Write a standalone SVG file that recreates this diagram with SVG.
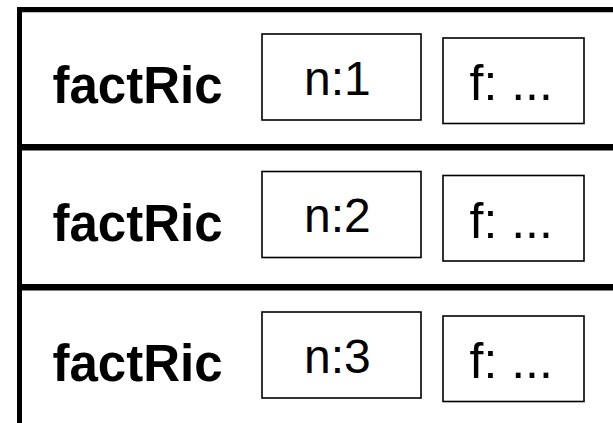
<svg xmlns="http://www.w3.org/2000/svg" width="613" height="423" viewBox="0 0 613 423">
<style>
.frame{stroke:#000;fill:none}
.box{fill:#fff;stroke:#000;stroke-width:1.6}
.name{font-family:"Liberation Sans",Arial,sans-serif;font-weight:bold;font-size:51px;fill:#000}
.val{font-family:"Liberation Sans",Arial,sans-serif;font-size:48px;fill:#000}
.fv{font-family:"Liberation Sans",Arial,sans-serif;font-size:50px;fill:#000}
</style>
<rect width="613" height="423" fill="#fff"/>
<g id="frame">
<line class="frame" x1="19.5" y1="7" x2="19.5" y2="423" stroke-width="5"/>
<line class="frame" x1="17" y1="9.6" x2="613" y2="9.6" stroke-width="5.3"/>
<line class="frame" x1="17" y1="147.3" x2="613" y2="147.3" stroke-width="6.5"/>
<line class="frame" x1="17" y1="287.2" x2="613" y2="287.2" stroke-width="6.5"/>
</g>
<g id="row1">
<text class="name" x="52.5" y="103.3">factRic</text>
<rect class="box" x="262" y="34" width="159" height="86"/>
<text class="val" x="304" y="94.5">n:1</text>
<rect class="box" x="443" y="38" width="141" height="85.5"/>
<text class="fv" x="469.5" y="100">f: ...</text>
</g>
<g id="row2" transform="translate(0,137.5)">
<text class="name" x="52.5" y="103.3">factRic</text>
<rect class="box" x="262" y="34" width="159" height="86"/>
<text class="val" x="304" y="94.5">n:2</text>
<rect class="box" x="443" y="38" width="141" height="85.5"/>
<text class="fv" x="469.5" y="100">f: ...</text>
</g>
<g id="row3" transform="translate(0,278)">
<text class="name" x="52.5" y="103.3">factRic</text>
<rect class="box" x="262" y="34" width="159" height="86"/>
<text class="val" x="304" y="94.5">n:3</text>
<rect class="box" x="443" y="38" width="141" height="85.5"/>
<text class="fv" x="469.5" y="100">f: ...</text>
</g>
<g id="connectors"></g>
</svg>
